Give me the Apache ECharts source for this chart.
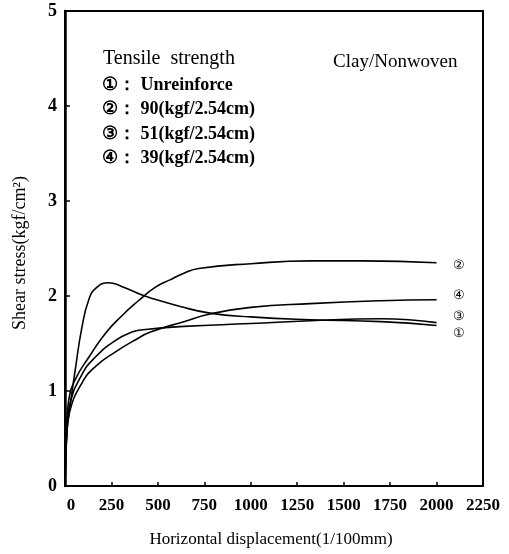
<!DOCTYPE html>
<html><head><meta charset="utf-8">
<script src="https://cdn.jsdelivr.net/npm/echarts@6/dist/echarts.min.js"></script>
<style>html,body{margin:0;padding:0;background:#fff}#c{width:509px;height:554px}</style>
</head><body><div id="c"></div>
<script>
// tick labels
const xTicks = [0,250,500,750,1000,1250,1500,1750,2000,2250];
const yTicks = [0,1,2,3,4,5];
// series names / labels
const seriesNames = ['①','②','③','④'];
const legendLines = ['①： Unreinforce','②： 90(kgf/2.54cm)','③： 51(kgf/2.54cm)','④： 39(kgf/2.54cm)'];
// ① Unreinforce
const disp1   = [0, 10, 25, 90, 165, 270, 360, 420, 640, 1000, 1320, 1700, 2000];
const stress1 = [0, 0.60, 0.85, 1.17, 1.36, 1.53, 1.62, 1.645, 1.68, 1.71, 1.74, 1.76, 1.72];
// ② 90 kgf/2.54cm
const disp2   = [0, 10, 20, 55, 130, 215, 305, 395, 485, 565, 640, 720, 1000, 1320, 1600, 2000];
const stress2 = [0, 0.65, 0.90, 1.12, 1.36, 1.60, 1.79, 1.95, 2.09, 2.17, 2.24, 2.29, 2.34, 2.37, 2.37, 2.35];
// ③ 51 kgf/2.54cm
const disp3   = [0, 8, 17, 55, 92, 128, 165, 235, 305, 415, 460, 620, 780, 1000, 1320, 1700, 2000];
const stress3 = [0, 0.50, 0.69, 1.22, 1.68, 1.96, 2.08, 2.14, 2.10, 2.01, 1.98, 1.89, 1.82, 1.78, 1.75, 1.73, 1.69];
// ④ 39 kgf/2.54cm
const disp4   = [0, 10, 25, 90, 165, 270, 380, 460, 640, 780, 1000, 1320, 1700, 2000];
const stress4 = [0, 0.55, 0.78, 1.08, 1.26, 1.41, 1.54, 1.62, 1.73, 1.81, 1.88, 1.92, 1.95, 1.96];

const SERIF = '"Liberation Serif","Times New Roman",serif';
const pairs = (xs, ys) => xs.map((x, i) => [x, ys[i]]);
const labelOffsets = [[8, 11], [8, 3], [8, -9], [8, -4]];
const allData = [pairs(disp1,stress1), pairs(disp2,stress2), pairs(disp3,stress3), pairs(disp4,stress4)];

const chart = echarts.init(document.getElementById('c'));
chart.setOption({
  animation: false,
  backgroundColor: '#fff',
  grid: {left: 65, right: 26, top: 11, bottom: 68, show: true, borderColor: '#000', borderWidth: 2},
  xAxis: {
    type: 'value', min: xTicks[0], max: xTicks[xTicks.length-1], interval: 250,
    axisLine: {lineStyle: {color: '#000', width: 2}},
    axisTick: {inside: true, length: 4, lineStyle: {color: '#000', width: 1.5}},
    splitLine: {show: false},
    axisLabel: {
      color: '#000', fontFamily: SERIF, fontWeight: 'bold', fontSize: 17, margin: 11,
      formatter: v => v === 0 ? '{z|0}' : String(v),
      rich: {z: {color: '#000', fontFamily: SERIF, fontWeight: 'bold', fontSize: 17, padding: [0, 0, 0, 12]}}
    }
  },
  yAxis: {
    type: 'value', min: yTicks[0], max: yTicks[yTicks.length-1], interval: 1,
    axisLine: {lineStyle: {color: '#000', width: 2.5}},
    axisTick: {inside: true, length: 5, lineStyle: {color: '#000', width: 1.5}},
    splitLine: {show: false},
    axisLabel: {color: '#000', fontFamily: SERIF, fontWeight: 'bold', fontSize: 18, margin: 8}
  },
  graphic: [
    {type: 'text', x: 103, y: 59, style: {text: 'Tensile  strength', font: '20px ' + SERIF, fill: '#000', verticalAlign: 'middle'}},
    ...legendLines.map((t, i) => ({type: 'text', x: 102, y: 85 + i * 24.5, style: {text: t, font: 'bold 18px ' + SERIF, fill: '#000', verticalAlign: 'middle'}})),
    {type: 'text', x: 333, y: 62, style: {text: 'Clay/Nonwoven', font: '19px ' + SERIF, fill: '#000', verticalAlign: 'middle'}},
    {type: 'text', x: 271, y: 540, style: {text: 'Horizontal displacement(1/100mm)', font: '17px ' + SERIF, fill: '#000', align: 'center', verticalAlign: 'middle'}},
    {type: 'text', x: 20, y: 253, rotation: Math.PI / 2, style: {text: 'Shear stress(kgf/cm²)', font: '18px ' + SERIF, fill: '#000', align: 'center', verticalAlign: 'middle'}}
  ],
  series: allData.map((d, i) => ({
    type: 'line', name: seriesNames[i], data: d, smooth: 0.5, showSymbol: false,
    lineStyle: {color: '#000', width: 1.6},
    endLabel: {show: true, formatter: seriesNames[i], offset: labelOffsets[i], color: '#000', fontSize: 13, fontFamily: SERIF}
  }))
});
</script></body></html>
